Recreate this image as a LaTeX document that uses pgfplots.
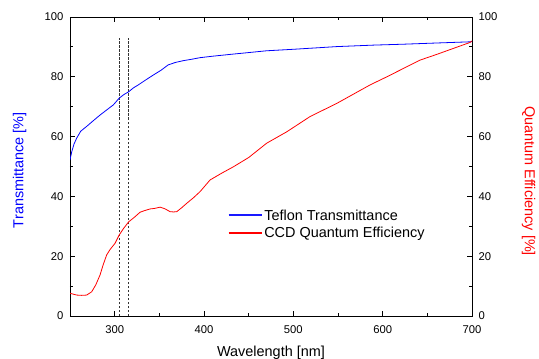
\documentclass[border=0pt]{standalone}
\usepackage{fontspec}
\setmainfont{Liberation Sans}
\usepackage{pgfplots}
\pgfplotsset{compat=1.18}
\begin{document}
\begin{tikzpicture}
\path[use as bounding box] (-70bp,-43bp) rectangle (469bp,316bp);
\pgfplotsset{
  every axis/.append style={
    scale only axis, width=402bp, height=299bp,
    xmin=250, xmax=700, ymin=0, ymax=100,
    tick align=inside, major tick length=5bp, minor tick length=3bp,
    axis line style={line width=0.9pt},
    every tick/.style={black, line width=0.8pt},
    tick label style={font=\fontsize{11.3}{13}\selectfont},
    label style={font=\fontsize{14.5}{17}\selectfont},
    /pgf/number format/assume math mode=true,
  }
}
\begin{axis}[
  xtick={300,400,...,700}, minor xtick={350,450,...,650},
  ytick={0,20,...,100}, minor ytick={10,30,...,90},
  ytick pos=left,
  xticklabel style={yshift=-6bp},
  yticklabel style={xshift=-3bp},
  xlabel={Wavelength [nm]},
  xlabel style={at={(axis description cs:0.5,0)}, anchor=base, yshift=-40bp},
  ylabel={Transmittance [\%]},
  ylabel style={blue, at={(axis description cs:-0.1157,0.488)}, anchor=base},
]
\addplot[black!80, line width=0.6pt, dash pattern=on 2.5bp off 1.5bp] coordinates {(305,0)(305,93)};
\addplot[black!80, line width=0.6pt, dash pattern=on 2.5bp off 1.5bp] coordinates {(315,0)(315,93)};
\end{axis}
\begin{axis}[
  axis y line*=right, axis x line=none,
  ytick={0,20,...,100}, minor ytick={10,30,...,90},
  yticklabel style={xshift=3bp},
  ylabel={Quantum Efficiency [\%]},
  ylabel style={red, at={(axis description cs:1.1318,0.4515)}, anchor=base, rotate=-180},
  legend style={draw=none, fill=none, at={(axis cs:423.5,37)}, anchor=north west,
    font=\fontsize{14.5}{17}\selectfont, row sep=2bp},
  legend cell align=left,
]
% Teflon transmittance (left axis, same 0-100 range)
\addplot[blue, line width=0.8pt,
  legend image code/.code={\draw[blue!90!white, line width=1.1bp] (0bp,0.5bp) -- (33bp,0.5bp);}] coordinates {
(250,52.2)(252,55)(254.5,57.5)(257.5,59.5)(262,61.8)(269,63.5)(276,65.3)(283.6,67.2)(291,68.9)(298.5,70.6)(304.9,72.8)(310,74)(315.7,75)(321,76.3)(326.5,77.3)(335,79)(343.3,80.6)(352,82.2)(360,84)(368,84.8)(376.9,85.4)(385,85.8)(395.6,86.4)(410,86.9)(432.9,87.6)(450,88.1)(470,88.7)(500,89.2)(548.6,90.1)(590,90.6)(623,90.9)(660,91.3)(698,91.7)(700,91.8)
};
\addlegendentry{Teflon Transmittance}
\addplot[red, line width=0.8pt,
  legend image code/.code={\draw[red, line width=1.1bp] (0bp,0.5bp) -- (33bp,0.5bp);}] coordinates {
(250,7.6)(257.5,7.0)(263,6.9)(268.7,7.0)(274.3,8.1)(279,10.5)(283.6,13.7)(287,17)(291,20.4)(295,22.3)(300.4,24.3)(304.9,27)(310,29.3)(315.7,31.5)(322,33)(328.4,34.7)(333,35.2)(339.6,35.8)(345,36)(350.8,36.4)(356,35.9)(362,34.9)(366,34.8)(369.5,34.9)(375,36.2)(380.7,37.7)(388,39.5)(395.6,41.6)(406.8,45.5)(420,47.8)(432.9,49.9)(450,53)(470.2,57.8)(492.6,61.6)(518.7,66.7)(548.6,71.1)(586,77.3)(604.7,80)(623.3,82.8)(642,85.6)(660.6,87.5)(679.2,89.5)(697.9,91.5)(700,92)
};
\addlegendentry{CCD Quantum Efficiency}
\end{axis}
\end{tikzpicture}
\end{document}
